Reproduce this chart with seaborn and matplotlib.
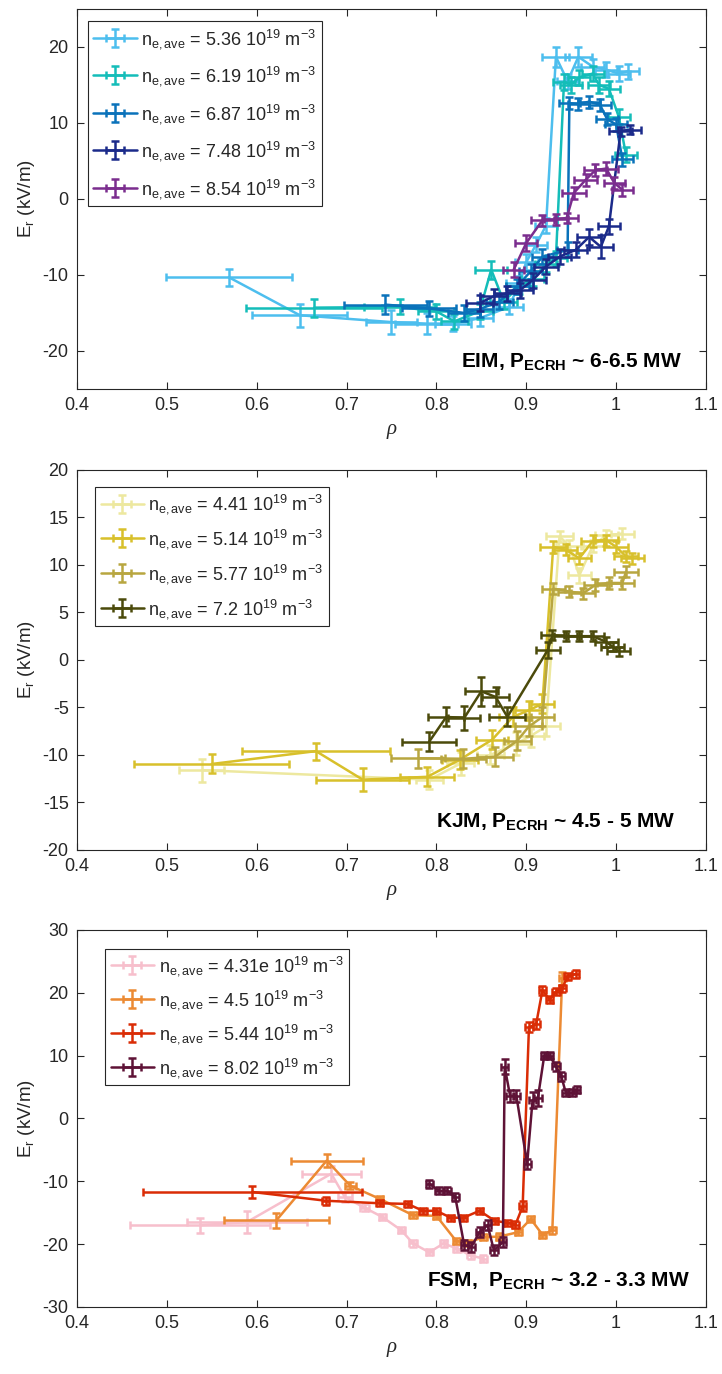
import numpy as np
import pandas as pd
import matplotlib
matplotlib.use("Agg")
import matplotlib.pyplot as plt
import seaborn as sns

# ---------------- data: panel 1 (EIM) ----------------
eim_labels = ["5.36", "6.19", "6.87", "7.48", "8.54"]
eim_colors = ["#4DBEEE", "#14BDB9", "#0A72BA", "#1B2A8A", "#7B2D8E"]

eim_536_x = [0.569, 0.648, 0.750, 0.789, 0.818, 0.848, 0.881, 0.892, 0.900, 0.911, 0.922, 0.933, 0.946, 0.958, 0.974, 0.989, 1.003, 1.013]
eim_536_y = [-10.3, -15.3, -16.2, -16.4, -16.4, -15.7, -14.2, -11.1, -8.3, -6.0, -3.5, 18.7, 15.5, 18.7, 17.4, 17.0, 16.5, 16.8]
eim_536_xe = [0.070, 0.053, 0.028, 0.035, 0.020, 0.015, 0.015, 0.015, 0.013, 0.012, 0.012, 0.015, 0.012, 0.015, 0.013, 0.013, 0.012, 0.012]
eim_536_ye = [1.1, 1.5, 1.6, 1.4, 1.0, 1.0, 1.0, 1.0, 1.0, 1.0, 1.0, 1.3, 1.0, 1.3, 1.0, 1.0, 1.0, 1.0]

eim_619_x = [0.664, 0.759, 0.800, 0.820, 0.848, 0.861, 0.875, 0.892, 0.907, 0.922, 0.933, 0.942, 0.950, 0.959, 0.974, 0.981, 0.992, 1.003, 1.011]
eim_619_y = [-14.3, -14.2, -14.8, -16.1, -14.8, -9.3, -13.5, -11.5, -10.5, -8.6, -7.8, 15.4, 15.0, 16.0, 16.5, 15.0, 14.5, 10.8, 5.8]
eim_619_xe = [0.076, 0.040, 0.020, 0.015, 0.015, 0.018, 0.015, 0.015, 0.013, 0.012, 0.012, 0.012, 0.012, 0.012, 0.012, 0.012, 0.012, 0.012, 0.012]
eim_619_ye = [1.2, 1.0, 1.0, 1.0, 1.0, 1.2, 1.0, 1.0, 1.0, 1.0, 1.0, 1.0, 1.0, 1.0, 1.0, 1.0, 1.0, 1.0, 1.0]

eim_687_x = [0.743, 0.792, 0.831, 0.848, 0.870, 0.890, 0.905, 0.918, 0.946, 0.948, 0.958, 0.970, 0.982, 0.990, 1.000, 1.007]
eim_687_y = [-13.9, -14.4, -15.0, -14.5, -13.5, -11.5, -9.5, -7.6, -6.7, 12.6, 12.5, 12.8, 12.4, 10.5, 9.8, 5.2]
eim_687_xe = [0.046, 0.030, 0.018, 0.015, 0.015, 0.013, 0.013, 0.012, 0.012, 0.012, 0.012, 0.012, 0.012, 0.012, 0.012, 0.012]
eim_687_ye = [1.3, 1.0, 1.0, 1.0, 1.0, 1.0, 1.0, 1.0, 1.0, 0.8, 0.8, 0.8, 0.8, 0.8, 0.8, 0.8]

eim_748_x = [0.848, 0.864, 0.879, 0.893, 0.907, 0.922, 0.937, 0.955, 0.970, 0.983, 0.992, 1.005, 1.015]
eim_748_y = [-13.7, -12.8, -12.4, -12.0, -10.7, -8.9, -7.6, -6.7, -5.0, -6.3, -3.6, 8.9, 9.1]
eim_748_xe = [0.015, 0.015, 0.015, 0.015, 0.015, 0.013, 0.013, 0.013, 0.013, 0.013, 0.012, 0.013, 0.013]
eim_748_ye = [1.0, 1.0, 1.0, 1.0, 1.0, 1.0, 1.0, 1.0, 1.0, 1.5, 1.0, 0.6, 0.6]

eim_854_x = [0.886, 0.900, 0.918, 0.933, 0.945, 0.953, 0.966, 0.977, 0.989, 0.998, 1.007]
eim_854_y = [-9.3, -5.8, -2.8, -2.7, -2.5, 0.8, 2.5, 3.8, 4.0, 2.1, 1.2]
eim_854_xe = [0.012, 0.012, 0.013, 0.013, 0.013, 0.013, 0.013, 0.013, 0.013, 0.012, 0.012]
eim_854_ye = [1.0, 1.0, 0.7, 0.7, 0.7, 0.8, 0.8, 0.8, 0.8, 0.8, 0.8]

# ---------------- data: panel 2 (KJM) ----------------
kjm_labels = ["4.41", "5.14", "5.77", "7.2"]
kjm_colors = ["#EDE89F", "#D8C02B", "#B8A640", "#4B4A0B"]

kjm_441_x = [0.539, 0.792, 0.827, 0.860, 0.889, 0.905, 0.922, 0.937, 0.948, 0.959, 0.974, 0.989, 1.007]
kjm_441_y = [-11.6, -12.6, -10.9, -10.0, -8.8, -8.0, -7.0, 13.0, 12.0, 8.9, 12.0, 13.1, 13.3]
kjm_441_xe = [0.025, 0.015, 0.015, 0.015, 0.015, 0.015, 0.015, 0.015, 0.015, 0.013, 0.013, 0.013, 0.013]
kjm_441_ye = [1.2, 1.0, 1.2, 1.0, 1.2, 1.2, 1.0, 0.6, 0.6, 0.8, 0.6, 0.6, 0.6]

kjm_514_x = [0.550, 0.666, 0.718, 0.790, 0.826, 0.862, 0.885, 0.903, 0.918, 0.930, 0.944, 0.959, 0.974, 0.989, 1.000, 1.011, 1.018]
kjm_514_y = [-10.95, -9.6, -12.6, -12.3, -10.5, -8.4, -6.0, -5.3, -4.6, 11.9, 11.6, 10.7, 12.5, 12.6, 11.9, 10.9, 10.7]
kjm_514_xe = [0.086, 0.082, 0.052, 0.030, 0.020, 0.018, 0.015, 0.015, 0.013, 0.015, 0.013, 0.013, 0.013, 0.013, 0.013, 0.013, 0.013]
kjm_514_ye = [1.0, 0.9, 1.2, 1.0, 1.0, 1.0, 1.0, 1.0, 1.0, 0.6, 0.6, 0.6, 0.6, 0.6, 0.6, 0.6, 0.6]

kjm_577_x = [0.780, 0.830, 0.865, 0.890, 0.903, 0.918, 0.930, 0.948, 0.963, 0.977, 0.992, 1.007, 1.011]
kjm_577_y = [-10.35, -10.4, -10.2, -8.5, -7.0, -6.0, 7.5, 7.2, 7.0, 7.9, 8.1, 8.1, 9.3]
kjm_577_xe = [0.030, 0.025, 0.020, 0.015, 0.015, 0.013, 0.013, 0.013, 0.013, 0.013, 0.013, 0.013, 0.013]
kjm_577_ye = [1.0, 1.0, 1.0, 1.0, 1.0, 1.0, 0.6, 0.6, 0.6, 0.6, 0.6, 0.6, 0.6]

kjm_72_x = [0.792, 0.811, 0.831, 0.850, 0.866, 0.879, 0.924, 0.929, 0.944, 0.959, 0.974, 0.989, 0.996, 1.003]
kjm_72_y = [-8.6, -6.0, -6.1, -3.3, -3.9, -6.0, 1.05, 2.6, 2.5, 2.5, 2.5, 1.9, 1.4, 0.9]
kjm_72_xe = [0.030, 0.020, 0.018, 0.018, 0.015, 0.020, 0.013, 0.013, 0.013, 0.013, 0.013, 0.013, 0.013, 0.013]
kjm_72_ye = [1.0, 1.0, 1.3, 1.5, 1.0, 1.0, 0.8, 0.5, 0.5, 0.5, 0.5, 0.5, 0.5, 0.5]

# ---------------- data: panel 3 (FSM) ----------------
fsm_labels = ["4.31e", "4.5", "5.44", "8.02"]
fsm_colors = ["#F7BFCC", "#EC8A33", "#DA2C05", "#5E1236"]

fsm_431_x = [0.537, 0.589, 0.683, 0.698, 0.720, 0.740, 0.761, 0.774, 0.792, 0.808, 0.823, 0.838, 0.852]
fsm_431_y = [-17.0, -16.5, -8.8, -12.5, -14.2, -15.7, -17.8, -19.9, -21.3, -19.9, -20.7, -21.8, -22.3]
fsm_431_xe = [0.078, 0.067, 0.033, 0.008, 0.005, 0.004, 0.004, 0.004, 0.004, 0.004, 0.004, 0.004, 0.004]
fsm_431_ye = [1.2, 1.8, 1.2, 0.8, 0.6, 0.5, 0.5, 0.5, 0.5, 0.5, 0.5, 0.5, 0.5]

fsm_45_x = [0.622, 0.678, 0.704, 0.737, 0.774, 0.800, 0.822, 0.835, 0.852, 0.870, 0.891, 0.905, 0.918, 0.929, 0.940]
fsm_45_y = [-16.2, -6.7, -10.7, -12.8, -15.4, -15.5, -19.5, -19.8, -18.9, -18.8, -18.1, -16.0, -18.5, -17.8, 22.3]
fsm_45_xe = [0.058, 0.040, 0.006, 0.004, 0.004, 0.004, 0.004, 0.004, 0.004, 0.004, 0.004, 0.004, 0.004, 0.004, 0.004]
fsm_45_ye = [1.2, 1.0, 0.6, 0.5, 0.5, 0.5, 0.5, 0.5, 0.5, 0.5, 0.5, 0.5, 0.5, 0.6, 1.0]

fsm_544_x = [0.595, 0.677, 0.737, 0.768, 0.785, 0.800, 0.816, 0.830, 0.848, 0.865, 0.879, 0.888, 0.896, 0.903, 0.911, 0.918, 0.926, 0.933, 0.940, 0.946, 0.955]
fsm_544_y = [-11.7, -13.1, -13.5, -13.6, -14.7, -14.7, -15.8, -15.8, -14.7, -16.3, -16.6, -16.9, -14.0, 14.5, 15.0, 20.4, 18.9, 20.2, 20.7, 22.6, 23.0]
fsm_544_xe = [0.122, 0.004, 0.004, 0.004, 0.004, 0.004, 0.004, 0.004, 0.004, 0.004, 0.004, 0.004, 0.004, 0.004, 0.004, 0.004, 0.004, 0.004, 0.004, 0.004, 0.004]
fsm_544_ye = [1.0, 0.6, 0.5, 0.5, 0.5, 0.5, 0.5, 0.5, 0.5, 0.5, 0.5, 0.6, 0.8, 0.8, 0.8, 0.7, 0.6, 0.6, 0.6, 0.6, 0.6]

fsm_802_x = [0.792, 0.803, 0.812, 0.821, 0.831, 0.839, 0.848, 0.857, 0.864, 0.874, 0.876, 0.882, 0.889, 0.901, 0.907, 0.913, 0.920, 0.926, 0.933, 0.939, 0.944, 0.951, 0.956]
fsm_802_y = [-10.4, -11.5, -11.5, -12.5, -20.2, -20.4, -18.1, -17.0, -21.0, -19.7, 8.2, 3.6, 3.6, -7.2, 2.9, 3.3, 10.0, 10.0, 8.3, 6.7, 4.1, 4.1, 4.6]
fsm_802_xe = [0.004] * 23
fsm_802_ye = [0.6, 0.6, 0.6, 0.7, 0.8, 0.8, 0.8, 0.8, 0.8, 0.8, 1.2, 1.0, 1.0, 0.8, 1.3, 1.3, 0.6, 0.6, 0.7, 0.7, 0.6, 0.6, 0.6]

# ---------------- style ----------------
sns.set_theme(style="ticks")
plt.rcParams["font.family"] = ["Liberation Sans", "DejaVu Sans"]
plt.rcParams["mathtext.fontset"] = "custom"
plt.rcParams["mathtext.rm"] = "Liberation Sans"
plt.rcParams["mathtext.it"] = "Liberation Sans:italic"
plt.rcParams["mathtext.bf"] = "Liberation Sans:bold"
plt.rcParams["axes.unicode_minus"] = False

AX_COLOR = "#262626"
LW = 1.8

fig = plt.figure(figsize=(7.22, 13.74), dpi=100)

panels = [
    dict(pos=[0.1066, 0.7169, 0.8712, 0.2766], ylim=(-25, 25), yticks=[-20, -10, 0, 10, 20],
         labels=eim_labels, colors=eim_colors,
         series=[(eim_536_x, eim_536_y, eim_536_xe, eim_536_ye),
                 (eim_619_x, eim_619_y, eim_619_xe, eim_619_ye),
                 (eim_687_x, eim_687_y, eim_687_xe, eim_687_ye),
                 (eim_748_x, eim_748_y, eim_748_xe, eim_748_ye),
                 (eim_854_x, eim_854_y, eim_854_xe, eim_854_ye)],
         leg_anchor=(0.0175, 0.968), spacing=0.75,
         note=("EIM, P", "ECRH", " ~ 6-6.5 MW"), note_xy=(0.962, 0.055)),
    dict(pos=[0.1066, 0.3814, 0.8712, 0.2766], ylim=(-20, 20), yticks=[-20, -15, -10, -5, 0, 5, 10, 15, 20],
         labels=kjm_labels, colors=kjm_colors,
         series=[(kjm_441_x, kjm_441_y, kjm_441_xe, kjm_441_ye),
                 (kjm_514_x, kjm_514_y, kjm_514_xe, kjm_514_ye),
                 (kjm_577_x, kjm_577_y, kjm_577_xe, kjm_577_ye),
                 (kjm_72_x, kjm_72_y, kjm_72_xe, kjm_72_ye)],
         leg_anchor=(0.029, 0.955), spacing=0.6,
         note=("KJM, P", "ECRH", " ~ 4.5 - 5 MW"), note_xy=(0.951, 0.058)),
    dict(pos=[0.1066, 0.0488, 0.8712, 0.2744], ylim=(-30, 30), yticks=[-30, -20, -10, 0, 10, 20, 30],
         labels=fsm_labels, colors=fsm_colors,
         series=[(fsm_431_x, fsm_431_y, fsm_431_xe, fsm_431_ye),
                 (fsm_45_x, fsm_45_y, fsm_45_xe, fsm_45_ye),
                 (fsm_544_x, fsm_544_y, fsm_544_xe, fsm_544_ye),
                 (fsm_802_x, fsm_802_y, fsm_802_xe, fsm_802_ye)],
         leg_anchor=(0.045, 0.95), spacing=0.55,
         note=("FSM,  P", "ECRH", " ~ 3.2 - 3.3 MW"), note_xy=(0.975, 0.053)),
]

for p in panels:
    ax = fig.add_axes(p["pos"])
    handles = []
    for (x, y, xe, ye), col in zip(p["series"], p["colors"]):
        df = pd.DataFrame({"rho": x, "Er": y})
        sns.lineplot(data=df, x="rho", y="Er", sort=False, estimator=None,
                     color=col, linewidth=LW, ax=ax, legend=False)
        line = ax.lines[-1]
        eb = ax.errorbar(x, y, xerr=xe, yerr=ye, fmt="none", ecolor=col,
                         elinewidth=LW, capsize=3, capthick=LW)
        handles.append((line, eb))
    labels = [r"n$_{\mathregular{e,ave}}$ = " + v + r" 10$^{\mathregular{19}}$ m$^{\mathregular{-3}}$"
              for v in p["labels"]]
    leg = ax.legend(handles, labels, loc="upper left", bbox_to_anchor=p["leg_anchor"],
                    borderaxespad=0, fontsize=13, frameon=True, fancybox=False,
                    framealpha=1, edgecolor=AX_COLOR, handlelength=2.4,
                    handletextpad=0.25, labelspacing=p["spacing"], borderpad=0.3)
    leg.get_frame().set_linewidth(0.8)

    ax.set_xlim(0.4, 1.1)
    ax.set_ylim(*p["ylim"])
    ax.set_xticks([0.4, 0.5, 0.6, 0.7, 0.8, 0.9, 1.0, 1.1])
    ax.set_xticklabels(["0.4", "0.5", "0.6", "0.7", "0.8", "0.9", "1", "1.1"])
    ax.set_yticks(p["yticks"])
    ax.set_yticklabels([str(t) for t in p["yticks"]])
    ax.tick_params(direction="in", length=5, width=0.8, colors=AX_COLOR,
                   labelsize=13, top=True, right=True, pad=6)
    for s in ax.spines.values():
        s.set_visible(True)
        s.set_color(AX_COLOR)
        s.set_linewidth(0.8)
    ax.set_xlabel("ρ", fontsize=15, color=AX_COLOR, family="Liberation Serif",
                  style="italic", labelpad=4)
    ax.set_ylabel(r"E$_{\mathregular{r}}$ (kV/m)", fontsize=13.5, color=AX_COLOR, labelpad=4)
    a, b, c = p["note"]
    ax.text(p["note_xy"][0], p["note_xy"][1], a + r"$_{\mathbf{" + b + r"}}$" + c,
            transform=ax.transAxes, ha="right", va="baseline",
            fontsize=15, fontweight="bold", color="black")

fig.savefig("out.png", dpi=100)
